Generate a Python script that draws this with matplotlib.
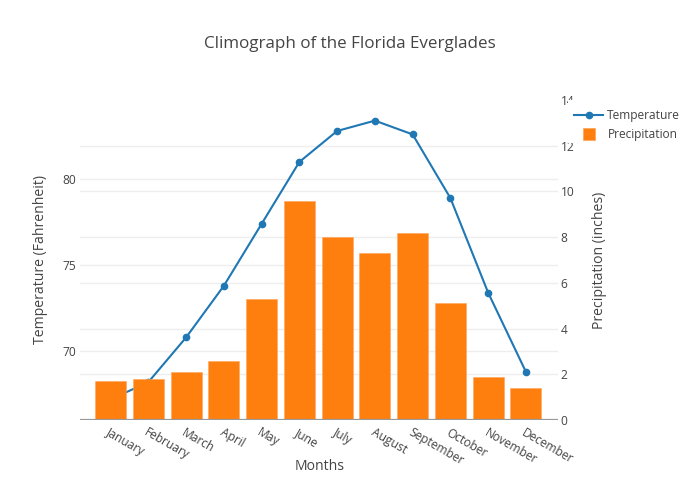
import matplotlib
matplotlib.use("Agg")
import matplotlib.pyplot as plt
from matplotlib.transforms import ScaledTranslation
from matplotlib.lines import Line2D
from matplotlib.patches import Rectangle

months = ["January", "February", "March", "April", "May", "June", "July",
          "August", "September", "October", "November", "December"]
temperature = [67.2, 68.2, 70.8, 73.8, 77.4, 81.0, 82.8, 83.4, 82.6, 78.9, 73.4, 68.8]
precipitation = [1.7, 1.8, 2.1, 2.6, 5.3, 9.6, 8.0, 7.3, 8.2, 5.1, 1.9, 1.4]
temp_ticks = [70, 75, 80]
precip_ticks = [0, 2, 4, 6, 8, 10, 12, 14]

plt.rcParams['font.family'] = ['Open Sans', 'DejaVu Sans']
TXT = '#444444'
GRID = '#eeeeee'
BLUE = '#1f77b4'
ORANGE = '#ff7f0e'

W, H = 700, 500
fig = plt.figure(figsize=(7, 5), dpi=100)
rect = [80 / W, 80 / H, 478 / W, 320 / H]

axT = fig.add_axes(rect, zorder=1)
axP = fig.add_axes(rect, zorder=2, sharex=axT)
axP.patch.set_visible(False)

x = list(range(len(months)))
xlim = (-0.81, 11.85)
axT.set_xlim(*xlim)
axT.set_ylim(66.0, 84.6)
axP.set_ylim(0, 14)

# temperature axis (left)
axT.set_yticks(temp_ticks)
axT.set_yticklabels([str(t) for t in temp_ticks], color=TXT, fontsize=8.64)
axT.tick_params(axis='y', length=0, pad=3)
axT.tick_params(axis='x', length=0, labelbottom=False)
axT.grid(axis='y', color=GRID, lw=1)
axT.set_axisbelow(True)
for s in axT.spines.values():
    s.set_visible(False)
axT.set_ylabel("Temperature (Fahrenheit)", color=TXT, fontsize=10.08, labelpad=10)

# precipitation axis (right)
axP.yaxis.tick_right()
axP.yaxis.set_label_position('right')
axP.set_yticks(precip_ticks)
axP.set_yticklabels([str(t) for t in precip_ticks], color=TXT, fontsize=8.64)
axP.tick_params(axis='y', length=0, pad=1.8)
axP.grid(axis='y', color=GRID, lw=1, zorder=0)
axP.set_axisbelow(True)
for s in axP.spines.values():
    s.set_visible(False)
axP.axhline(0, color='#999999', lw=1.6, zorder=3)
axP.set_ylabel("Precipitation (inches)", color=TXT, fontsize=10.08, labelpad=13)

# line (temperature units) drawn under bars
line, = axP.plot(x, temperature, color=BLUE, lw=1.5, marker='o', markersize=4.5,
                 transform=axT.transData, zorder=1.5, label='Temperature')
bars = axP.bar(x, precipitation, width=0.82, color=ORANGE, zorder=2,
               edgecolor='#ffa45c', linewidth=0.4, label='Precipitation')
axP.set_xlim(*xlim)
axP.set_ylim(0, 14)

# hide gridlines at the outer edges (0 and 14)
fig.canvas.draw()
for val, gl in zip(axP.get_yticks(), axP.get_ygridlines()):
    if val in (0, 14):
        gl.set_visible(False)

# x tick labels
axP.set_xticks(x)
axP.set_xticklabels(months, rotation=-30, ha='left', va='center',
                    rotation_mode='anchor', color=TXT, fontsize=8.64)
axP.tick_params(axis='x', length=0, pad=8.5)
off = ScaledTranslation(-3 / 100, 0, fig.dpi_scale_trans)
for lab in axP.get_xticklabels():
    lab.set_transform(lab.get_transform() + off)
axP.set_xlabel("Months", color=TXT, fontsize=10.08)
axP.xaxis.set_label_coords(0.502, -(466 - 420) / 320, transform=axP.transAxes)
axP.xaxis.label.set_va('center')

# title
fig.text(350 / W, 1 - 44 / H, "Climograph of the Florida Everglades",
         ha='center', va='center', color=TXT, fontsize=12.24)

# legend background (overlaps right tick labels, as in the reference)
fig.add_artist(Rectangle((568 / W, 1 - 143 / H), 130 / W, 43 / H,
                         transform=fig.transFigure, facecolor='white',
                         edgecolor='none', zorder=5))

handles = [Line2D([0], [0], color=BLUE, lw=1.5, marker='o', markersize=4.5),
           Line2D([0], [0], color='none', marker='s', markersize=8.6,
                  markerfacecolor=ORANGE, markeredgecolor='#ffa45c', markeredgewidth=0.5)]
leg = fig.legend(handles, ['Temperature', 'Precipitation'],
                 loc='upper left', bbox_to_anchor=(572 / W, 1 - 107 / H),
                 frameon=False, fontsize=8.64, handlelength=2.4, handletextpad=0.35,
                 labelspacing=0.45, borderpad=0.2, borderaxespad=0)
leg.set_zorder(10)
for t in leg.get_texts():
    t.set_color(TXT)

fig.savefig("out.png", dpi=100)
